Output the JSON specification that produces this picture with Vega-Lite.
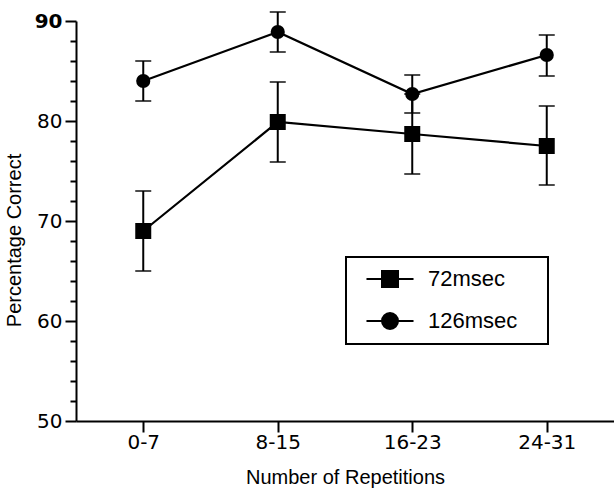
{
  "$schema": "https://vega.github.io/schema/vega-lite/v6.json",
  "autosize": {"type": "none"},
  "padding": {"left": 76, "top": 21, "right": 0, "bottom": 67},
  "width": 538,
  "height": 400,
  "background": "white",
  "config": {
    "font": "Liberation Sans",
    "view": {"stroke": null},
    "axis": {"domainColor": "black", "tickColor": "black", "labelColor": "black", "titleColor": "black", "domainWidth": 2, "tickWidth": 2, "grid": false, "labelFont": "DejaVu Sans", "labelFontSize": 20, "titleFont": "Liberation Sans", "titleFontSize": 20, "titleFontWeight": "normal", "labelOverlap": false},
    "legend": {"strokeColor": "black", "strokeWidth": 2}
  },
  "data": {
    "values": [
      {"rep": "0-7", "series": "72msec", "pct": 69.0, "lo": 65.0, "hi": 73.0},
      {"rep": "8-15", "series": "72msec", "pct": 79.9, "lo": 75.9, "hi": 83.9},
      {"rep": "16-23", "series": "72msec", "pct": 78.7, "lo": 74.7, "hi": 82.7},
      {"rep": "24-31", "series": "72msec", "pct": 77.5, "lo": 73.6, "hi": 81.5},
      {"rep": "0-7", "series": "126msec", "pct": 84.0, "lo": 82.0, "hi": 86.0},
      {"rep": "8-15", "series": "126msec", "pct": 88.9, "lo": 86.9, "hi": 90.9},
      {"rep": "16-23", "series": "126msec", "pct": 82.7, "lo": 80.8, "hi": 84.6},
      {"rep": "24-31", "series": "126msec", "pct": 86.6, "lo": 84.5, "hi": 88.6}
    ]
  },
  "encoding": {
    "x": {
      "field": "rep", "type": "ordinal",
      "sort": ["0-7", "8-15", "16-23", "24-31"],
      "scale": {"type": "point", "padding": 0.5},
      "axis": {"title": "Number of Repetitions", "labelAngle": 0, "tickSize": 11, "labelPadding": 0, "titlePadding": 15}
    }
  },
  "resolve": {"axis": {"y": "independent"}, "scale": {"y": "shared"}},
  "layer": [
    {
      "mark": {"type": "rule", "color": "black", "strokeWidth": 2},
      "encoding": {
        "y": {"field": "lo", "type": "quantitative", "scale": {"domain": [50, 90], "nice": false, "zero": false},
          "axis": {
            "orient": "left",
            "title": "Percentage Correct",
            "titleY": 219,
            "values": [50, 60, 70, 80, 90],
            "tickSize": 11,
            "labelFontWeight": {"condition": {"test": "datum.value === 90", "value": "bold"}, "value": "normal"},
            "labelPadding": 3,
            "titlePadding": 10
          }},
        "y2": {"field": "hi"}
      }
    },
    {
      "mark": {"type": "tick", "color": "black", "size": 16, "thickness": 2},
      "encoding": {"y": {"field": "lo", "type": "quantitative",
        "axis": {"orient": "left", "title": null, "values": [52, 54, 56, 58, 62, 64, 66, 68, 72, 74, 76, 78, 82, 84, 86, 88], "labels": false, "tickSize": 6, "domain": false}}}
    },
    {
      "mark": {"type": "tick", "color": "black", "size": 16, "thickness": 2},
      "encoding": {"y": {"field": "hi", "type": "quantitative", "axis": null}}
    },
    {
      "mark": {"type": "line", "strokeWidth": 2.2},
      "encoding": {
        "y": {"field": "pct", "type": "quantitative", "axis": null},
        "color": {
          "field": "series", "type": "nominal",
          "scale": {"domain": ["72msec", "126msec"], "range": ["black", "black"]},
          "legend": {
            "title": "__",
            "titleOrient": "right",
            "titleColor": "rgba(0,0,0,0)",
            "titleFontSize": 14,
            "titlePadding": 4,
            "orient": "none",
            "legendX": 270,
            "legendY": 236,
            "padding": 11,
            "symbolSize": 256,
            "symbolOffset": 22,
            "labelOffset": 27,
            "labelFont": "Liberation Sans",
            "labelFontSize": 22,
            "rowPadding": 18,
            "encode": {
              "symbols": {
                "update": {
                  "shape": {"signal": "datum.value === '72msec' ? 'M-2.94,0H2.94M-1,-1H1V1H-1Z' : 'M-2.94,0H2.94M1,0A1,1 0 1,1 -1,0A1,1 0 1,1 1,0Z'"},
                  "fill": {"value": "black"},
                  "stroke": {"value": "black"},
                  "strokeWidth": {"value": 2}
                }
              }
            }
          }
        }
      }
    },
    {
      "mark": {"type": "point", "filled": true, "opacity": 1, "color": "black"},
      "encoding": {
        "y": {"field": "pct", "type": "quantitative", "axis": null},
        "shape": {"condition": {"test": "datum.series === '72msec'", "value": "square"}, "value": "circle"},
        "size": {"condition": {"test": "datum.series === '72msec'", "value": 256}, "value": 201}
      }
    }
  ]
}
